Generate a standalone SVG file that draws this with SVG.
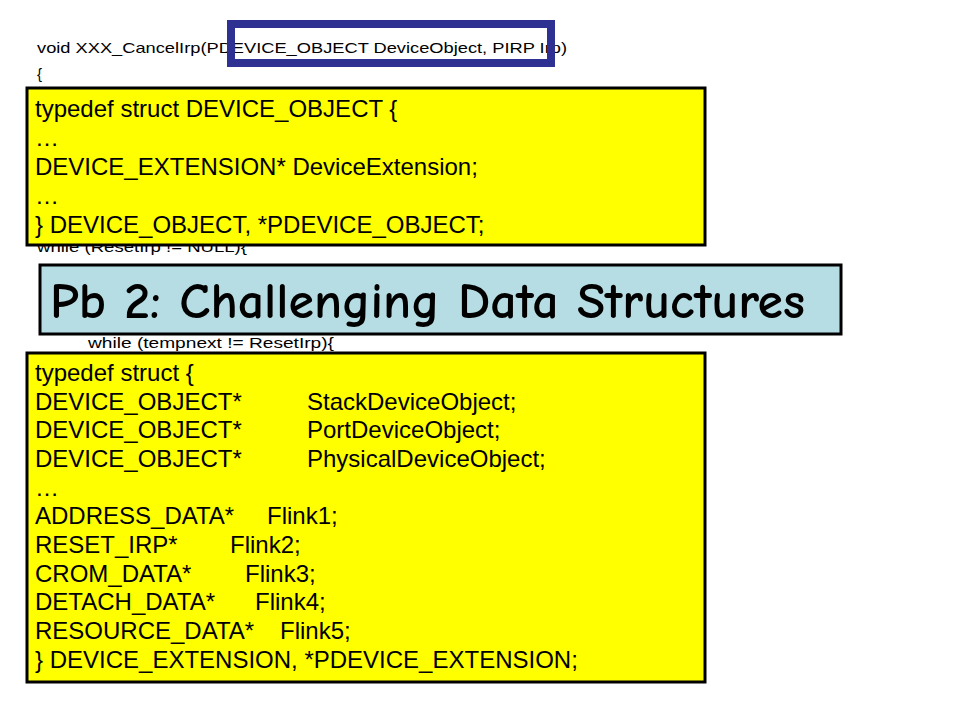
<svg xmlns="http://www.w3.org/2000/svg" width="960" height="720" viewBox="0 0 960 720">
<style>
.code{font-family:"Liberation Sans",Arial,sans-serif;font-size:15px;fill:#000}
.box{fill:#ffff00;stroke:#000;stroke-width:3}
.bt{font-family:"Liberation Sans",Arial,sans-serif;font-size:24px;fill:#000}
.title{font-family:"Comic Neue","DejaVu Sans",sans-serif;font-size:50px;font-weight:bold;fill:#000}
</style>
<rect width="960" height="720" fill="#fff"/>
<g id="code">
<text class="code" x="37" y="53" textLength="530" lengthAdjust="spacingAndGlyphs">void XXX_CancelIrp(PDEVICE_OBJECT DeviceObject, PIRP Irp)</text>
<text class="code" x="37" y="79">{</text>
<text class="code" x="37" y="252" textLength="210" lengthAdjust="spacingAndGlyphs">while (ResetIrp != NULL){</text>
<text class="code" x="88" y="348" textLength="246" lengthAdjust="spacingAndGlyphs">while (tempnext != ResetIrp){</text>
</g>
<g id="highlight">
<rect x="231" y="24" width="320" height="39" fill="none" stroke="#2e3192" stroke-width="8"/>
</g>
<g id="device-object">
<rect class="box" x="27" y="88" width="678" height="157"/>
<text class="bt" x="35" y="117">typedef struct DEVICE_OBJECT {</text>
<text class="bt" x="35" y="146">…</text>
<text class="bt" x="35" y="175">DEVICE_EXTENSION* DeviceExtension;</text>
<text class="bt" x="35" y="204">…</text>
<text class="bt" x="35" y="233">} DEVICE_OBJECT, *PDEVICE_OBJECT;</text>
</g>
<g id="title">
<rect x="40" y="265" width="801" height="69" fill="#b7dde4" stroke="#000" stroke-width="3"/>
<text class="title" x="50" y="318" textLength="755" lengthAdjust="spacingAndGlyphs">Pb 2: Challenging Data Structures</text>
</g>
<g id="device-extension">
<rect class="box" x="27" y="353" width="678" height="329"/>
<text class="bt" x="35" y="381">typedef struct {</text>
<text class="bt" x="35" y="410">DEVICE_OBJECT*</text><text class="bt" x="307" y="410">StackDeviceObject;</text>
<text class="bt" x="35" y="438">DEVICE_OBJECT*</text><text class="bt" x="307" y="438">PortDeviceObject;</text>
<text class="bt" x="35" y="467">DEVICE_OBJECT*</text><text class="bt" x="307" y="467">PhysicalDeviceObject;</text>
<text class="bt" x="35" y="496">…</text>
<text class="bt" x="35" y="524">ADDRESS_DATA*</text><text class="bt" x="267" y="524">Flink1;</text>
<text class="bt" x="35" y="553">RESET_IRP*</text><text class="bt" x="230" y="553">Flink2;</text>
<text class="bt" x="35" y="582">CROM_DATA*</text><text class="bt" x="245" y="582">Flink3;</text>
<text class="bt" x="35" y="610">DETACH_DATA*</text><text class="bt" x="255" y="610">Flink4;</text>
<text class="bt" x="35" y="639">RESOURCE_DATA*</text><text class="bt" x="280" y="639">Flink5;</text>
<text class="bt" x="35" y="668">} DEVICE_EXTENSION, *PDEVICE_EXTENSION;</text>
</g>
</svg>
